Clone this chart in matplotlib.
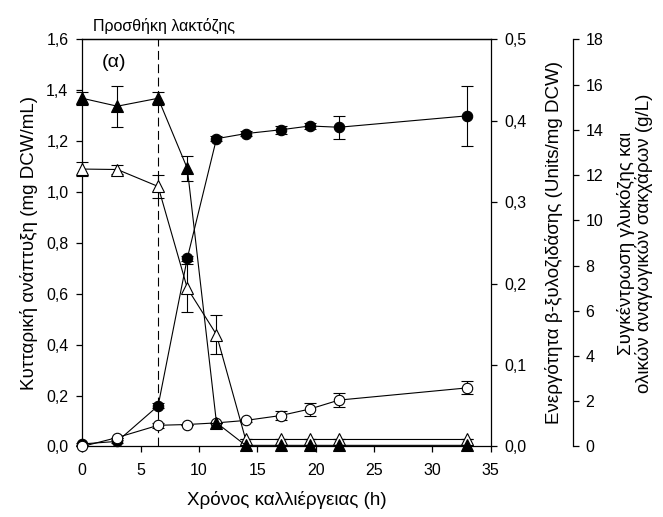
import matplotlib
matplotlib.use('Agg')
import matplotlib.pyplot as plt
from matplotlib.ticker import FuncFormatter, MultipleLocator

plt.rcParams['font.family'] = ['Liberation Sans', 'DejaVu Sans']

# sampling times (h)
time_h = [0, 3, 6.5, 9, 11.5, 14, 17, 19.5, 22, 33]

# cell growth (mg DCW/mL) - filled circles, left axis
growth = [0.01, 0.02, 0.16, 0.74, 1.21, 1.23, 1.245, 1.26, 1.255, 1.30]
growth_err = [0.005, 0.005, 0.01, 0.01, 0.01, 0.01, 0.015, 0.01, 0.046, 0.117]

# beta-xylosidase activity (Units/mg DCW) - open circles, middle axis
activity = [0.0, 0.011, 0.026, 0.027, 0.029, 0.032, 0.038, 0.046, 0.057, 0.072]
activity_err = [0.0, 0.0, 0.003, 0.0, 0.0, 0.002, 0.006, 0.008, 0.009, 0.008]

# glucose (g/L) - filled triangles, right axis
glucose = [15.4, 15.05, 15.4, 12.3, 1.05, 0.05, 0.05, 0.05, 0.05, 0.05]
glucose_err = [0.28, 0.9, 0.28, 0.56, 0.0, 0.0, 0.0, 0.0, 0.0, 0.0]

# total reducing sugars (g/L) - open triangles, right axis
sugars = [12.27, 12.25, 11.5, 7.0, 4.95, 0.31, 0.31, 0.31, 0.31, 0.31]
sugars_err = [0.3, 0.22, 0.5, 1.07, 0.85, 0.0, 0.0, 0.0, 0.0, 0.0]

lactose_time = 6.5

comma = FuncFormatter(lambda v, p: ('%.1f' % v).replace('.', ','))

fig = plt.figure(figsize=(6.63, 5.17), dpi=100)
ax = fig.add_axes([0.1241, 0.1364, 0.616, 0.7872])
ax2 = ax.twinx()
ax3 = ax.twinx()

style = dict(color='black', linewidth=0.8, capsize=4.2,
             elinewidth=0.8, capthick=0.8, markeredgewidth=0.8, clip_on=False)

ax3.errorbar(time_h, sugars, yerr=sugars_err, marker='^', markersize=8,
             markerfacecolor='white', markeredgecolor='black', **style)
ax3.errorbar(time_h, glucose, yerr=glucose_err, marker='^', markersize=8,
             markerfacecolor='black', markeredgecolor='black', **style)
ax2.errorbar(time_h, activity, yerr=activity_err, marker='o', markersize=7.5,
             markerfacecolor='white', markeredgecolor='black', **style)
ax.errorbar(time_h, growth, yerr=growth_err, marker='o', markersize=7.5,
            markerfacecolor='black', markeredgecolor='black', **style)

# lactose added at 6.5 h
ax.axvline(lactose_time, color='black', linestyle=(0, (8, 4)), linewidth=0.8, zorder=1)

ax.set_xlim(0, 35)
ax.set_ylim(0, 1.6)
ax2.set_ylim(0, 0.5)
ax3.set_ylim(0, 18)

ax.xaxis.set_major_locator(MultipleLocator(5))
ax.yaxis.set_major_locator(MultipleLocator(0.2))
ax.yaxis.set_major_formatter(comma)
ax2.yaxis.set_major_locator(MultipleLocator(0.1))
ax2.yaxis.set_major_formatter(comma)
ax3.yaxis.set_major_locator(MultipleLocator(2))

ax3.spines['right'].set_position(('axes', 1.2015))
for s in ['top', 'bottom', 'left']:
    ax3.spines[s].set_visible(False)
ax.spines['right'].set_visible(False)
ax2.spines['left'].set_visible(False)
ax2.spines['bottom'].set_visible(False)

for a in (ax, ax2, ax3):
    a.tick_params(direction='out', length=4, width=0.9, labelsize=11.5, pad=6)
    for s in a.spines.values():
        s.set_linewidth(0.9)
ax.tick_params(axis='x', pad=8)
ax3.tick_params(pad=5)

ax.set_xlabel('Χρόνος καλλιέργειας (h)', fontsize=13.5, labelpad=9)
ax.set_ylabel('Κυτταρική ανάπτυξη (mg DCW/mL)', fontsize=13.5, labelpad=6)
ax2.set_ylabel('Ενεργότητα β-ξυλοζιδάσης (Units/mg DCW)', fontsize=13.5, labelpad=13)
ax3.set_ylabel('Συγκέντρωση γλυκόζης και\nολικών αναγωγικών σακχάρων (g/L)',
               fontsize=13.5, labelpad=10, linespacing=1.0)

fig.text(114 / 663, 1 - 63 / 517, '(α)', fontsize=14, ha='center', va='center')
fig.text(93 / 663, 1 - 30.7 / 517, 'Προσθήκη λακτόζης', fontsize=11.5,
         ha='left', va='baseline')

fig.savefig('out.png', dpi=100)
